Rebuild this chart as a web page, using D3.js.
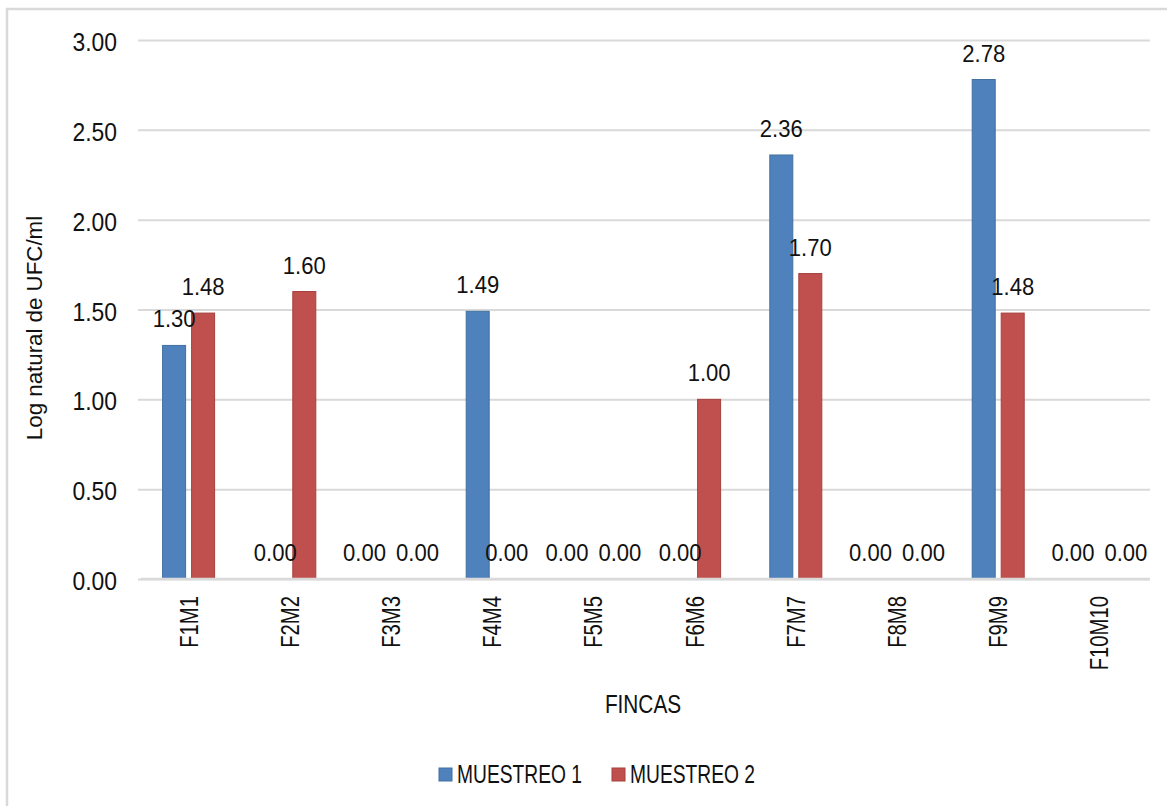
<!DOCTYPE html>
<html>
<head>
<meta charset="utf-8">
<script src="https://cdn.jsdelivr.net/npm/d3@7"></script>
<style>
  html, body { margin: 0; padding: 0; background: #fff; }
  svg { display: block; }
  text { font-family: "Liberation Sans", Arial, Helvetica, sans-serif; fill: #111; }
</style>
</head>
<body>
<svg id="chart" width="1167" height="806"></svg>
<script>
// Fincas sampled and log-transformed counts for the two sampling rounds
const categories = ["F1M1", "F2M2", "F3M3", "F4M4", "F5M5", "F6M6", "F7M7", "F8M8", "F9M9", "F10M10"];
const muestreo1 = [1.30, 0.00, 0.00, 1.49, 0.00, 0.00, 2.36, 0.00, 2.78, 0.00];
const muestreo2 = [1.48, 1.60, 0.00, 0.00, 0.00, 1.00, 1.70, 0.00, 1.48, 0.00];
const seriesNames = ["MUESTREO 1", "MUESTREO 2"];
const yTicks = [0, 0.5, 1, 1.5, 2, 2.5, 3];

const colors = { fill: ["#4F81BD", "#C0504D"], stroke: ["#41709F", "#A5403D"] };
const gridColor = "#d9d9d9";

const svg = d3.select("#chart");
const plot = { left: 138, right: 1150, top: 40, bottom: 579 };

const x = d3.scaleBand().domain(categories).range([plot.left, plot.right]);
const y = d3.scaleLinear().domain([0, 3]).range([plot.bottom, plot.top]);

// condensed text helper: horizontal squeeze via scale, optional rotation
function txt(parent, px, py, s, size, sx, anchor, rot) {
  return parent.append("text")
    .attr("transform", `translate(${px},${py})` + (rot ? ` rotate(${rot})` : "") + ` scale(${sx},1)`)
    .attr("text-anchor", anchor)
    .style("font-size", size + "px")
    .text(s);
}

// outer frame (left and top edges)
svg.append("path")
  .attr("d", "M7,806 L7,9 L1167,9")
  .attr("fill", "none")
  .attr("stroke", gridColor)
  .attr("stroke-width", 2.5);

// gridlines
const yAxis = d3.axisLeft(y).tickValues(yTicks).tickSize(-(plot.right - plot.left)).tickFormat("");
const gAxis = svg.append("g").attr("transform", `translate(${plot.left},0)`).call(yAxis);
gAxis.select(".domain").remove();
gAxis.selectAll(".tick line").attr("stroke", gridColor).attr("stroke-width", 2);

// y tick labels
yTicks.forEach(v => txt(svg, 117, y(v) + 11, d3.format(".2f")(v), 26, 0.88, "end"));

// bars
const barW = 23, gap = 6;
const series = [muestreo1, muestreo2];
const barOffset = si => (si === 0 ? -gap / 2 - barW : gap / 2);
series.forEach((vals, si) => {
  svg.append("g").selectAll("rect")
    .data(categories.map((c, i) => ({ c, v: vals[i] })))
    .join("rect")
    .attr("x", d => x(d.c) + x.bandwidth() / 2 + barOffset(si))
    .attr("y", d => y(d.v))
    .attr("width", barW)
    .attr("height", d => y(0) - y(d.v))
    .attr("fill", colors.fill[si])
    .attr("stroke", colors.stroke[si])
    .attr("stroke-width", 1);
});

// x axis line
svg.append("line")
  .attr("x1", plot.left + 3).attr("x2", plot.right)
  .attr("y1", y(0)).attr("y2", y(0))
  .attr("stroke", gridColor).attr("stroke-width", 2.5);

// value labels, pushed apart horizontally when a pair would collide
const labelSize = 24, labelSx = 0.92, labelGap = 10;
categories.forEach((c, i) => {
  const cx = x(c) + x.bandwidth() / 2;
  const labs = series.map((vals, si) => {
    const s = d3.format(".2f")(vals[i]);
    const t = txt(svg, 0, 0, s, labelSize, labelSx, "middle");
    const w = t.node().getComputedTextLength() * labelSx;
    return { t, w, x: cx + barOffset(si) + barW / 2, y: y(vals[i]) - 18 };
  });
  const [a, b] = labs;
  if (Math.abs(a.y - b.y) < 20) {
    const overlap = (a.x + a.w / 2 + labelGap) - (b.x - b.w / 2);
    if (overlap > 0) { a.x -= overlap / 2; b.x += overlap / 2; }
  }
  labs.forEach(l => l.t.attr("transform", `translate(${l.x},${l.y}) scale(${labelSx},1)`));
});

// category labels (rotated)
categories.forEach(c => {
  txt(svg, x(c) + x.bandwidth() / 2 + 9, 596, c, 26, 0.78, "end", -90);
});

// axis titles
txt(svg, 643, 713, "FINCAS", 26, 0.8, "middle");
txt(svg, 42, 328, "Log  natural de UFC/ml", 23, 0.97, "middle", -90);

// legend
const legendX = [439, 612];
seriesNames.forEach((n, i) => {
  svg.append("rect")
    .attr("x", legendX[i]).attr("y", 768)
    .attr("width", 13).attr("height", 13)
    .attr("fill", colors.fill[i]).attr("stroke", colors.stroke[i]).attr("stroke-width", 1);
  txt(svg, legendX[i] + 18, 783, n, 26, 0.74, "start");
});
</script>
</body>
</html>
